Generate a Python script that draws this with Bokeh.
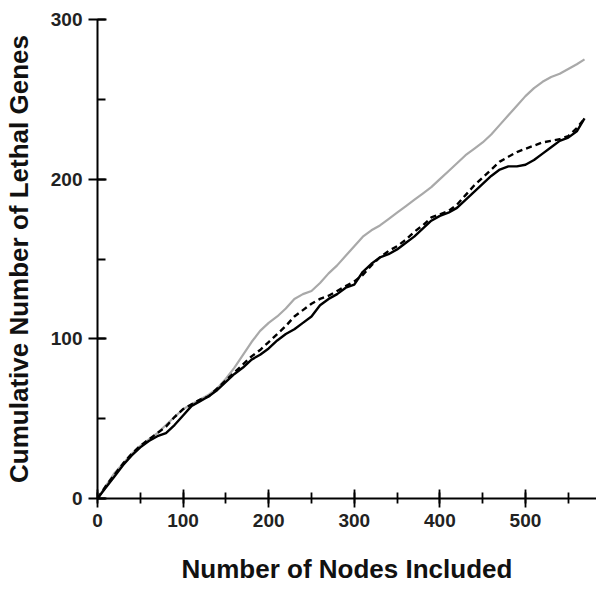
from bokeh.plotting import figure
from bokeh.models import Range1d, SingleIntervalTicker
from bokeh.embed import file_html
from bokeh.resources import INLINE

x_vals = [0, 10, 20, 30, 40, 50, 60, 70, 80, 90, 100, 110, 120, 130, 140, 150, 160, 170, 180, 190,
          200, 210, 220, 230, 240, 250, 260, 270, 280, 290, 300, 310, 320, 330, 340, 350, 360, 370,
          380, 390, 400, 410, 420, 430, 440, 450, 460, 470, 480, 490, 500, 510, 520, 530, 540, 550,
          560, 569]

gray_series = [0, 8, 16, 22, 28, 33, 37, 41, 46, 51, 56, 59, 62, 65, 69, 75, 82, 90, 98, 105,
               110, 114, 119, 125, 128, 130, 135, 141, 146, 152, 158, 164, 168, 171, 175, 179, 183, 187,
               191, 195, 200, 205, 210, 215, 219, 223, 228, 234, 240, 246, 252, 257, 261, 264, 266, 269,
               272, 275]

solid_series = [0, 7, 14, 21, 27, 32, 36, 39, 41, 46, 52, 58, 61, 64, 68, 73, 78, 82, 87, 90,
                94, 99, 103, 106, 110, 114, 121, 125, 128, 132, 134, 142, 147, 151, 153, 156, 160, 164,
                169, 174, 177, 179, 182, 187, 192, 197, 202, 206, 208, 208, 209, 212, 216, 220, 224, 226,
                230, 238]

dashed_series = [0, 8, 15, 22, 28, 33, 37, 41, 45, 51, 56, 59, 62, 64, 69, 74, 79, 84, 89, 93,
                 98, 103, 108, 114, 118, 122, 125, 127, 130, 133, 136, 140, 146, 151, 155, 158, 162, 167,
                 171, 176, 178, 180, 184, 190, 196, 201, 206, 211, 214, 217, 219, 221, 223, 224, 225, 227,
                 232, 238]

x_title = "Number of Nodes Included"
y_title = "Cumulative Number of Lethal Genes"

p = figure(frame_width=499, frame_height=479, output_backend="svg", toolbar_location=None,
           x_range=Range1d(0, 583), y_range=Range1d(0, 300),
           min_border_left=96, min_border_top=19, min_border_right=0, min_border_bottom=10)
p.outline_line_color = None
p.xgrid.visible = False
p.ygrid.visible = False
p.background_fill_color = "white"

p.line(x_vals, gray_series, line_color="#a9a9a9", line_width=2.2)
p.line(x_vals, solid_series, line_color="black", line_width=2.4)
p.line(x_vals, dashed_series, line_color="black", line_width=2.4, line_dash="6 4")

for ax in (p.xaxis[0], p.yaxis[0]):
    ax.ticker = SingleIntervalTicker(interval=100, num_minor_ticks=2)
    ax.axis_line_width = 2
    ax.major_tick_line_width = 1.8
    ax.minor_tick_line_width = 1.8
    ax.major_tick_in = 9
    ax.major_tick_out = 9
    ax.major_label_text_font = "Liberation Sans"
    ax.major_label_text_font_style = "bold"
    ax.major_label_text_font_size = "19px"
    ax.major_label_text_color = "#222222"
    ax.axis_label_text_font = "Liberation Sans"
    ax.axis_label_text_font_style = "bold"
    ax.axis_label_text_font_size = "26px"
    ax.axis_label_text_color = "#111111"

p.xaxis.minor_tick_in = 6
p.xaxis.minor_tick_out = 5
p.yaxis.minor_tick_in = 8
p.yaxis.minor_tick_out = 0
p.xaxis.major_label_standoff = 6
p.yaxis.major_label_standoff = 6
p.xaxis.axis_label = x_title
p.yaxis.axis_label = y_title
p.xaxis.axis_label_standoff = 24
p.yaxis.axis_label_standoff = 14

open("out.html", "w").write(file_html(p, INLINE))
